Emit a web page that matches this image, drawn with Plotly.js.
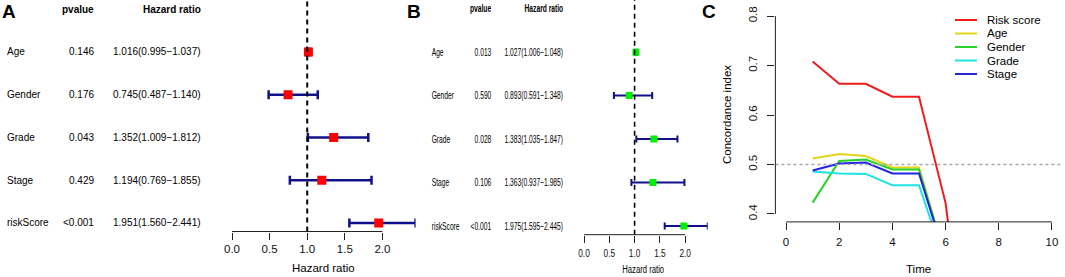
<!DOCTYPE html>
<html><head><meta charset="utf-8">
<script src="https://cdn.plot.ly/plotly-3.0.1.min.js"></script>
<style>html,body{margin:0;padding:0;background:#fff}#chart{width:1065px;height:277px}</style>
</head><body><div id="chart"></div>
<script>
// ---------- data ----------
const variables = ['Age', 'Gender', 'Grade', 'Stage', 'riskScore'];
const rowPos = [5, 4, 3, 2, 1];
const headerRow = 6;
// Panel A (univariate)
const pvalA = ['0.146', '0.176', '0.043', '0.429', '<0.001'];
const hrA = [1.016, 0.745, 1.352, 1.194, 1.951];
const lowA = [0.995, 0.487, 1.009, 0.769, 1.560];
const highA = [1.037, 1.140, 1.812, 1.855, 2.441];
// Panel B (multivariate)
const pvalB = ['0.013', '0.590', '0.028', '0.106', '<0.001'];
const hrB = [1.027, 0.893, 1.383, 1.363, 1.975];
const lowB = [1.006, 0.591, 1.035, 0.937, 1.595];
const highB = [1.048, 1.348, 1.847, 1.985, 2.445];
const hrTicks = [0, 0.5, 1, 1.5, 2];
const refHR = 1;
// Panel C (concordance index over time)
const timePoints = [1, 2, 3, 4, 5, 6, 7];
const seriesNames = ['Risk score', 'Age', 'Gender', 'Grade', 'Stage'];
const cRisk = [0.708, 0.663, 0.663, 0.637, 0.637, 0.422, 0.0];
const cAge = [0.512, 0.521, 0.517, 0.494, 0.494, 0.31];
const cGender = [0.423, 0.507, 0.510, 0.490, 0.490, 0.31];
const cGrade = [0.486, 0.482, 0.481, 0.458, 0.458, 0.30];
const cStage = [0.488, 0.502, 0.504, 0.482, 0.482, 0.31];
const timeTicks = [0, 2, 4, 6, 8, 10];
const cTicks = [0.4, 0.5, 0.6, 0.7, 0.8];
const cRef = 0.5;

// ---------- styling ----------
const W = 1065, H = 277;
const px = v => v / W, py = v => 1 - v / H;
const FONT = 'Liberation Sans, Arial, sans-serif';
const AX = '#222';
const SQUEEZE_TEXT = 0.67, SQUEEZE_TICK = 0.72;
const esc = s => s.replace(/</g, '&lt;');
const hrText = (h, l, u) => `${h.toFixed(3)}(${l.toFixed(3)}\u2212${u.toFixed(3)})`;
const seriesColors = ['#f01c1c', '#e3d51a', '#27d127', '#1ee3e3', '#2323e0'];
const seriesData = [cRisk, cAge, cGender, cGrade, cStage];

const traces = [];
traces.push({
  type: 'scatter', mode: 'markers', x: hrA, y: rowPos, xaxis: 'x', yaxis: 'y',
  marker: {symbol: 'square', size: 9, color: '#ff0000'},
  error_x: {type: 'data', symmetric: false,
    array: hrA.map((h, i) => highA[i] - h), arrayminus: hrA.map((h, i) => h - lowA[i]),
    color: '#10108a', thickness: 2.5, width: 4.5},
  hoverinfo: 'skip', showlegend: false
});
traces.push({
  type: 'scatter', mode: 'markers', x: hrB, y: rowPos, xaxis: 'x2', yaxis: 'y2',
  marker: {symbol: 'square', size: 7, color: '#00ee00'},
  error_x: {type: 'data', symmetric: false,
    array: hrB.map((h, i) => highB[i] - h), arrayminus: hrB.map((h, i) => h - lowB[i]),
    color: '#10108a', thickness: 2, width: 3.5},
  hoverinfo: 'skip', showlegend: false
});
seriesData.forEach((d, i) => {
  traces.push({
    type: 'scatter', mode: 'lines', x: timePoints.slice(0, d.length), y: d,
    xaxis: 'x3', yaxis: 'y3', name: seriesNames[i],
    line: {color: seriesColors[i], width: 2}, hoverinfo: 'skip', showlegend: false
  });
});

const hrAxis = (dom, maxv, size) => ({
  domain: dom, range: [0, maxv], tickvals: hrTicks, tickformat: '.1f',
  ticks: 'outside', ticklen: 7, tickwidth: 1, tickcolor: AX,
  showline: false, showgrid: false, zeroline: false, fixedrange: true,
  tickfont: {family: FONT, size, color: '#111'}
});
const layout = {
  width: W, height: H, margin: {l: 0, r: 0, t: 0, b: 0},
  paper_bgcolor: '#fff', plot_bgcolor: 'rgba(0,0,0,0)',
  font: {family: FONT, color: '#000'},
  showlegend: false,
  xaxis: Object.assign(hrAxis([px(232), px(415.6)], Math.max(...highA), 11.5), {anchor: 'y'}),
  yaxis: {domain: [py(231.5), py(0.7)], range: [0.8, 6.2], visible: false, fixedrange: true, anchor: 'x'},
  xaxis2: Object.assign(hrAxis([px(584), px(707.7)], Math.max(...highB), 11.5), {anchor: 'y2'}),
  yaxis2: {domain: [py(234.7), 1], range: [0.8, 6.2], visible: false, fixedrange: true, anchor: 'x2'},
  xaxis3: {domain: [px(775.4), px(1062.6)], range: [-0.4, 10.4], tickvals: timeTicks,
    ticks: 'outside', ticklen: 7, tickcolor: AX, showline: false, showgrid: false, zeroline: false,
    tickfont: {family: FONT, size: 11.5, color: '#111'}, anchor: 'y3', ticklabelstandoff: 2},
  yaxis3: {domain: [py(221.9), py(8.1)], range: [0.384, 0.816], tickvals: cTicks, tickformat: '.1f',
    tickangle: -90, ticks: 'outside', ticklen: 7, tickcolor: AX, showline: false, showgrid: false, zeroline: false,
    tickfont: {family: FONT, size: 11.5, color: '#111'}, anchor: 'x3', ticklabelstandoff: 6},
  shapes: [], annotations: []
};
const S = layout.shapes, A = layout.annotations;
const narrowIdx = new Set();
// reference dashed lines and axis lines for forest panels
[['x', 'y', 2], ['x2', 'y2', 1.6]].forEach(([xa, ya, w]) => {
  S.push({type: 'line', xref: xa, yref: ya + ' domain', x0: refHR, x1: refHR, y0: 0, y1: 1,
    line: {color: '#000', width: w, dash: '5px,4px'}});
  S.push({type: 'line', xref: xa, yref: ya + ' domain', x0: hrTicks[0], x1: hrTicks[hrTicks.length - 1], y0: 0, y1: 0,
    line: {color: AX, width: 1}});
});
// panel C lines
S.push({type: 'line', xref: 'x3 domain', yref: 'y3', x0: 0, x1: 1, y0: cRef, y1: cRef,
  line: {color: '#a8a8a8', width: 1.6, dash: 'dot'}});
S.push({type: 'line', xref: 'x3', yref: 'y3 domain', x0: timeTicks[0], x1: timeTicks[timeTicks.length - 1], y0: 0, y1: 0,
  line: {color: AX, width: 1}});
S.push({type: 'line', xref: 'x3 domain', yref: 'y3', x0: 0, x1: 0, y0: cTicks[0], y1: cTicks[cTicks.length - 1],
  line: {color: AX, width: 1}});
// legend (C)
seriesNames.forEach((n, i) => {
  const yy = py(20 + i * 13.5);
  S.push({type: 'line', xref: 'paper', yref: 'paper', x0: px(955), x1: px(977), y0: yy, y1: yy,
    line: {color: seriesColors[i], width: 2}});
  A.push({xref: 'paper', yref: 'paper', x: px(985), y: yy, xanchor: 'left', yanchor: 'middle',
    text: n, showarrow: false, font: {family: FONT, size: 11.5, color: '#000'}});
});

// forest text tables
function ann(o, narrow) {
  if (narrow) narrowIdx.add(A.length);
  A.push(Object.assign({showarrow: false, yanchor: 'middle', borderpad: 0}, o));
}
function table(yref, xs, pv, hr, lo, hi, size, narrow) {
  const f = {family: FONT, size, color: '#000'};
  variables.forEach((v, i) => {
    ann({xref: 'paper', yref, x: px(xs[0]), y: rowPos[i], xanchor: 'left', align: 'left', text: v, font: f}, narrow);
    ann({xref: 'paper', yref, x: px(xs[1]), y: rowPos[i], xanchor: 'right', align: 'right', text: esc(pv[i]), font: f}, narrow);
    ann({xref: 'paper', yref, x: px(xs[2]), y: rowPos[i], xanchor: 'right', align: 'right',
      text: hrText(hr[i], lo[i], hi[i]), font: f}, narrow);
  });
  ann({xref: 'paper', yref, x: px(xs[1]), y: headerRow, xanchor: 'right', align: 'right', text: '<b>pvalue</b>', font: f}, narrow);
  ann({xref: 'paper', yref, x: px(xs[2]), y: headerRow, xanchor: 'right', align: 'right', text: '<b>Hazard ratio</b>', font: f}, narrow);
}
table('y', [6, 95, 202], pvalA, hrA, lowA, highA, 10, false);
table('y2', [431, 492, 564], pvalB, hrB, lowB, highB, 10, true);

// panel letters
[['A', 1], ['B', 406], ['C', 701]].forEach(([t, x]) => {
  ann({xref: 'paper', yref: 'paper', x: px(x), y: py(12), xanchor: 'left', align: 'left',
    text: '<b>' + t + '</b>', font: {family: FONT, size: 19, color: '#000'}}, false);
});
// axis titles
ann({xref: 'paper', yref: 'paper', x: px(323.8), y: py(268), xanchor: 'center',
  text: 'Hazard ratio', font: {family: FONT, size: 11.5, color: '#000'}}, false);
ann({xref: 'paper', yref: 'paper', x: px(643), y: py(269), xanchor: 'center',
  text: 'Hazard ratio', font: {family: FONT, size: 11.5, color: '#000'}}, true);
ann({xref: 'paper', yref: 'paper', x: px(918.5), y: py(269), xanchor: 'center',
  text: 'Time', font: {family: FONT, size: 11.5, color: '#000'}}, false);
ann({xref: 'paper', yref: 'paper', x: px(727), y: py(115), xanchor: 'center',
  text: 'Concordance index', textangle: -90, font: {family: FONT, size: 11.5, color: '#000'}}, false);

Plotly.newPlot('chart', traces, layout, {staticPlot: true, displayModeBar: false}).then(gd => {
  // condensed look of panel B text: scale horizontally about each text's anchor point
  gd.querySelectorAll('g.annotation').forEach(g => {
    const i = +g.getAttribute('data-index');
    if (!narrowIdx.has(i)) return;
    const inner = g.querySelector('g.annotation-text-g');
    if (!inner) return;
    const ax = A[i].x * W;
    const prev = inner.getAttribute('transform') || '';
    inner.setAttribute('transform', `translate(${ax},0) scale(${SQUEEZE_TEXT},1) translate(${-ax},0) ${prev}`);
  });
  gd.querySelectorAll('g.x2tick text').forEach(t => {
    const L = t.getComputedTextLength();
    t.setAttribute('textLength', (L * SQUEEZE_TICK).toFixed(2));
    t.setAttribute('lengthAdjust', 'spacingAndGlyphs');
  });
});
</script></body></html>
